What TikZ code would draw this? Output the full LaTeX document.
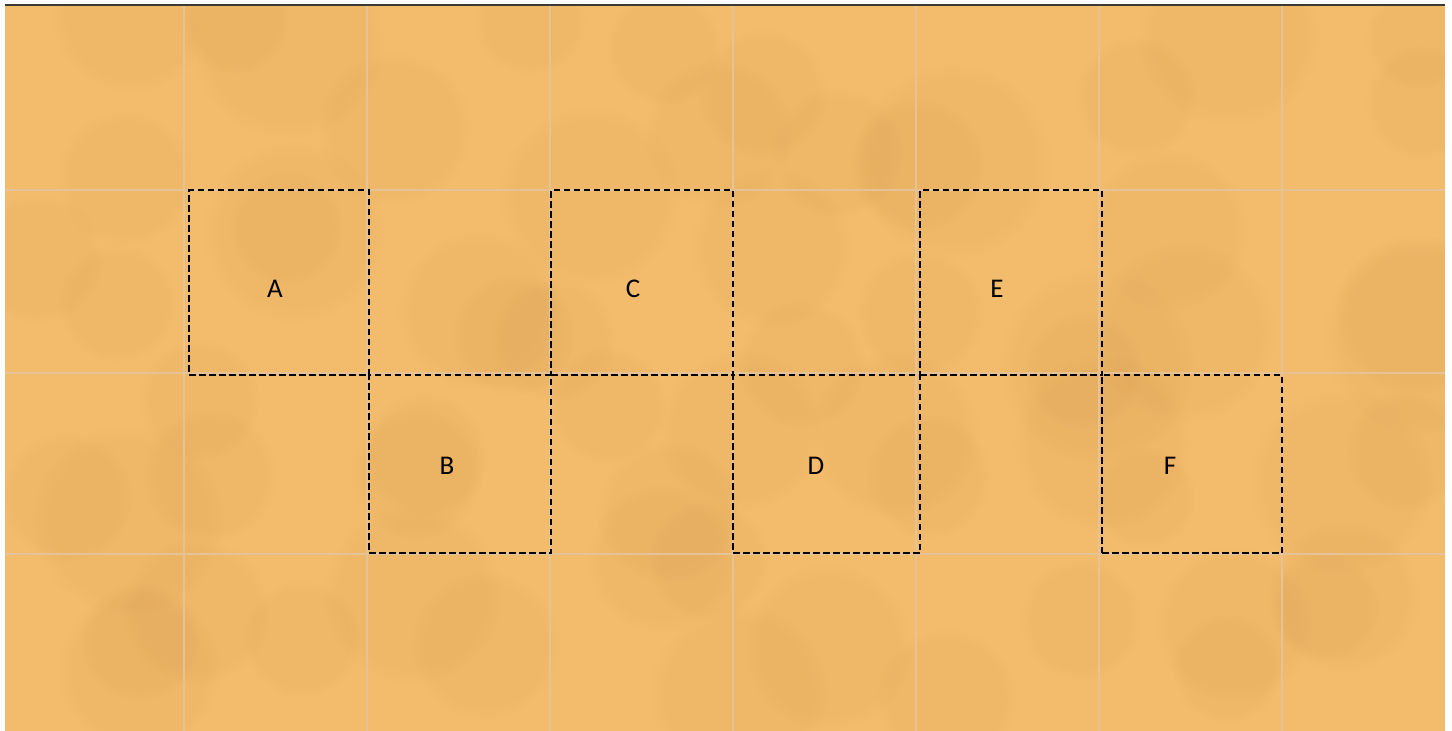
\documentclass[tikz,border=0pt]{standalone}
\usepackage{fontspec}
\setmainfont{Carlito}
\usetikzlibrary{fadings}
\definecolor{sand}{RGB}{243,188,108}
\definecolor{sanddark}{RGB}{200,140,70}
\definecolor{gridc}{RGB}{230,195,150}
\definecolor{topline}{RGB}{60,56,50}
\tikzset{
  cell/.style={draw=black, dash pattern=on 6.5pt off 3.5pt, line width=2pt, inner sep=0pt},
  lab/.style={font=\fontsize{27}{27}\selectfont, text=black, inner sep=0pt, anchor=center},
  gridline/.style={draw=gridc, line width=2.5pt},
  blotch/.style={fill=sanddark, path fading=circle with fuzzy edge 20 percent, fill opacity=0.09}
}
\begin{document}
\begin{tikzpicture}[x=1pt,y=-1pt]
\useasboundingbox (0,0) rectangle (1452,731);
\fill[white] (0,0) rectangle (1452,731);
\fill[sand] (5,6) rectangle (1445,731);
% soft texture blotches
\begin{scope}
\clip (5,6) rectangle (1445,731);
\pgfmathsetseed{11}
\foreach \i in {0,...,7}{
  \foreach \j in {0,...,3}{
    \foreach \k in {1,2}{
      \pgfmathsetmacro{\cx}{5+\i*182.5+rnd*182}
      \pgfmathsetmacro{\cy}{6+\j*182+rnd*182}
      \pgfmathsetmacro{\rr}{50+rnd*50}
      \fill[blotch] (\cx,\cy) circle (\rr);
    }
  }
}
\end{scope}
% faint tile grid
\foreach \x in {184,367,550,733,916,1099,1282}{
  \draw[gridline] (\x,6) -- (\x,731);
}
\foreach \y in {190,373,554}{
  \draw[gridline] (5,\y) -- (1445,\y);
}
\draw[topline, line width=2pt] (5,5) -- (1445,5);
% dashed cells
\node[cell, minimum width=180pt, minimum height=185pt] (A) at (279,282.5) {};
\node[cell, minimum width=182pt, minimum height=178pt] (B) at (460,464) {};
\node[cell, minimum width=182pt, minimum height=185pt] (C) at (642,282.5) {};
\node[cell, minimum width=187pt, minimum height=178pt] (D) at (826.5,464) {};
\node[cell, minimum width=182pt, minimum height=185pt] (E) at (1011,282.5) {};
\node[cell, minimum width=180pt, minimum height=178pt] (F) at (1192,464) {};
% labels
\node[lab] (tA) at (275,289) {A};
\node[lab] (tB) at (447,466) {B};
\node[lab] (tC) at (633,289) {C};
\node[lab] (tD) at (816,466) {D};
\node[lab] (tE) at (997,289) {E};
\node[lab] (tF) at (1170,466) {F};
\end{tikzpicture}
\end{document}
